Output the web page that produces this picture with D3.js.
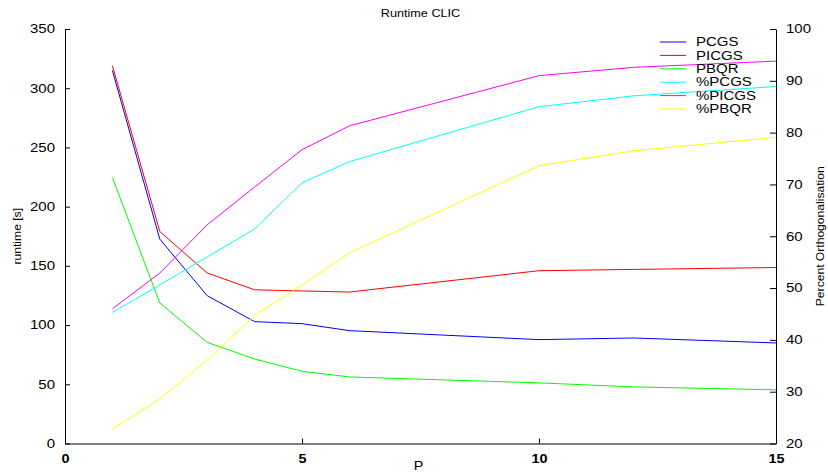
<!DOCTYPE html>
<html>
<head>
<meta charset="utf-8">
<script src="https://cdn.jsdelivr.net/npm/d3@7"></script>
<style>
  body { margin: 0; background: #fff; }
  text { font-family: "Liberation Sans", Arial, sans-serif; fill: #000; }
</style>
</head>
<body>
<div id="chart"></div>
<script>
// x values (processors)
const P = [1, 2, 3, 4, 5, 6, 10, 12, 15];

// runtime [s]
const PCGS = [315, 172.6, 124.8, 102.9, 101.2, 95.3, 87.7, 89.1, 84.9];
const PICGS = [319, 179, 144, 129.8, 128.8, 127.9, 145.9, 147, 148.6];
const PBQR = [224.6, 118.7, 85.4, 71.4, 61, 56.2, 51.2, 47.8, 45.3];

// percent orthogonalisation
const pctPCGS = [45.3, 50.6, 56, 61.4, 70.3, 74.4, 85.0, 87.1, 88.9];
const pctPICGS = [46, 52.9, 62.2, 69.5, 76.7, 81.3, 91, 92.6, 93.8];
const pctPBQR = [22.8, 28.6, 36.1, 44.7, 50.6, 56.8, 73.6, 76.5, 79.1];

const xTicks = [0, 5, 10, 15];
const yLeftTicks = [0, 50, 100, 150, 200, 250, 300, 350];
const yRightTicks = [20, 30, 40, 50, 60, 70, 80, 90, 100];

const series = [
  { name: "PCGS", values: PCGS, axis: "left", color: "#0000ff" },
  { name: "PICGS", values: PICGS, axis: "left", color: "#ff0000" },
  { name: "PBQR", values: PBQR, axis: "left", color: "#00ff00" },
  { name: "%PCGS", values: pctPCGS, axis: "right", color: "#00ffff" },
  { name: "%PICGS", values: pctPICGS, axis: "right", color: "#ff00ff" },
  { name: "%PBQR", values: pctPBQR, axis: "right", color: "#ffff00" }
];

const W = 828, H = 473;
const m = { left: 65, right: 52, top: 29, bottom: 29.5 };
const width = W - m.left - m.right;
const height = H - m.top - m.bottom;

const svg = d3.select("#chart").append("svg")
  .attr("width", W)
  .attr("height", H);

const g = svg.append("g")
  .attr("transform", "translate(" + m.left + "," + m.top + ")");

const x = d3.scaleLinear().domain([0, 15]).range([0, width]);
const yL = d3.scaleLinear().domain([0, 350]).range([height, 0]);
const yR = d3.scaleLinear().domain([20, 100]).range([height, 0]);

// the figure looks horizontally stretched, so widen glyphs a bit
function stretch(sel, k) {
  sel.each(function () {
    const len = this.getComputedTextLength();
    d3.select(this).attr("textLength", len * k).attr("lengthAdjust", "spacingAndGlyphs");
  });
}

// lines
const line = (ys) => d3.line().x((d, i) => x(P[i])).y(d => ys(d));
g.selectAll(".series")
  .data(series)
  .enter()
  .append("path")
  .attr("fill", "none")
  .attr("stroke", d => d.color)
  .attr("stroke-width", 1)
  .attr("d", d => line(d.axis === "left" ? yL : yR)(d.values));

// bottom axis
const xAxis = g.append("g")
  .attr("transform", "translate(0," + height + ")")
  .call(d3.axisBottom(x).tickValues(xTicks).tickSizeInner(-5).tickSizeOuter(0).tickPadding(11));
xAxis.selectAll("text").attr("font-size", 12).attr("font-weight", "bold").call(stretch, 1.2);

// left axis
const yAxisL = g.append("g")
  .call(d3.axisLeft(yL).tickValues(yLeftTicks).tickSizeInner(-5).tickSizeOuter(0).tickPadding(10));
yAxisL.selectAll("text").attr("font-size", 12).call(stretch, 1.25);

// right axis
const yAxisR = g.append("g")
  .attr("transform", "translate(" + width + ",0)")
  .call(d3.axisRight(yR).tickValues(yRightTicks).tickSizeInner(-6).tickSizeOuter(0).tickPadding(10));
yAxisR.selectAll("text").attr("font-size", 12).call(stretch, 1.25);

svg.selectAll(".domain").attr("stroke", "#000");
svg.selectAll(".tick line").attr("stroke", "#000");

// title and labels
svg.append("text")
  .attr("x", m.left + width / 2)
  .attr("y", 17)
  .attr("text-anchor", "middle")
  .attr("font-size", 11)
  .text("Runtime CLIC")
  .call(stretch, 1.15);

svg.append("text")
  .attr("x", m.left + width / 2 - 2)
  .attr("y", 470)
  .attr("text-anchor", "middle")
  .attr("font-size", 12)
  .text("P")
  .call(stretch, 1.2);

svg.append("text")
  .attr("transform", "translate(21," + (m.top + height / 2) + ")rotate(-90)")
  .attr("text-anchor", "middle")
  .attr("font-size", 11)
  .text("runtime [s]")
  .call(stretch, 1.1);

svg.append("text")
  .attr("transform", "translate(824," + (m.top + height / 2) + ")rotate(-90)")
  .attr("text-anchor", "middle")
  .attr("font-size", 11)
  .text("Percent Orthogonalisation")
  .call(stretch, 1.1);

// legend
const legend = svg.append("g").attr("transform", "translate(660,42)");
const rows = legend.selectAll(".row")
  .data(series)
  .enter()
  .append("g")
  .attr("transform", (d, i) => "translate(0," + i * 13.4 + ")");
rows.append("line")
  .attr("x1", 0).attr("x2", 26)
  .attr("stroke", d => d.color)
  .attr("stroke-width", 1);
rows.append("text")
  .attr("x", 36)
  .attr("dy", "0.35em")
  .attr("font-size", 12)
  .text(d => d.name)
  .call(stretch, 1.25);
</script>
</body>
</html>
